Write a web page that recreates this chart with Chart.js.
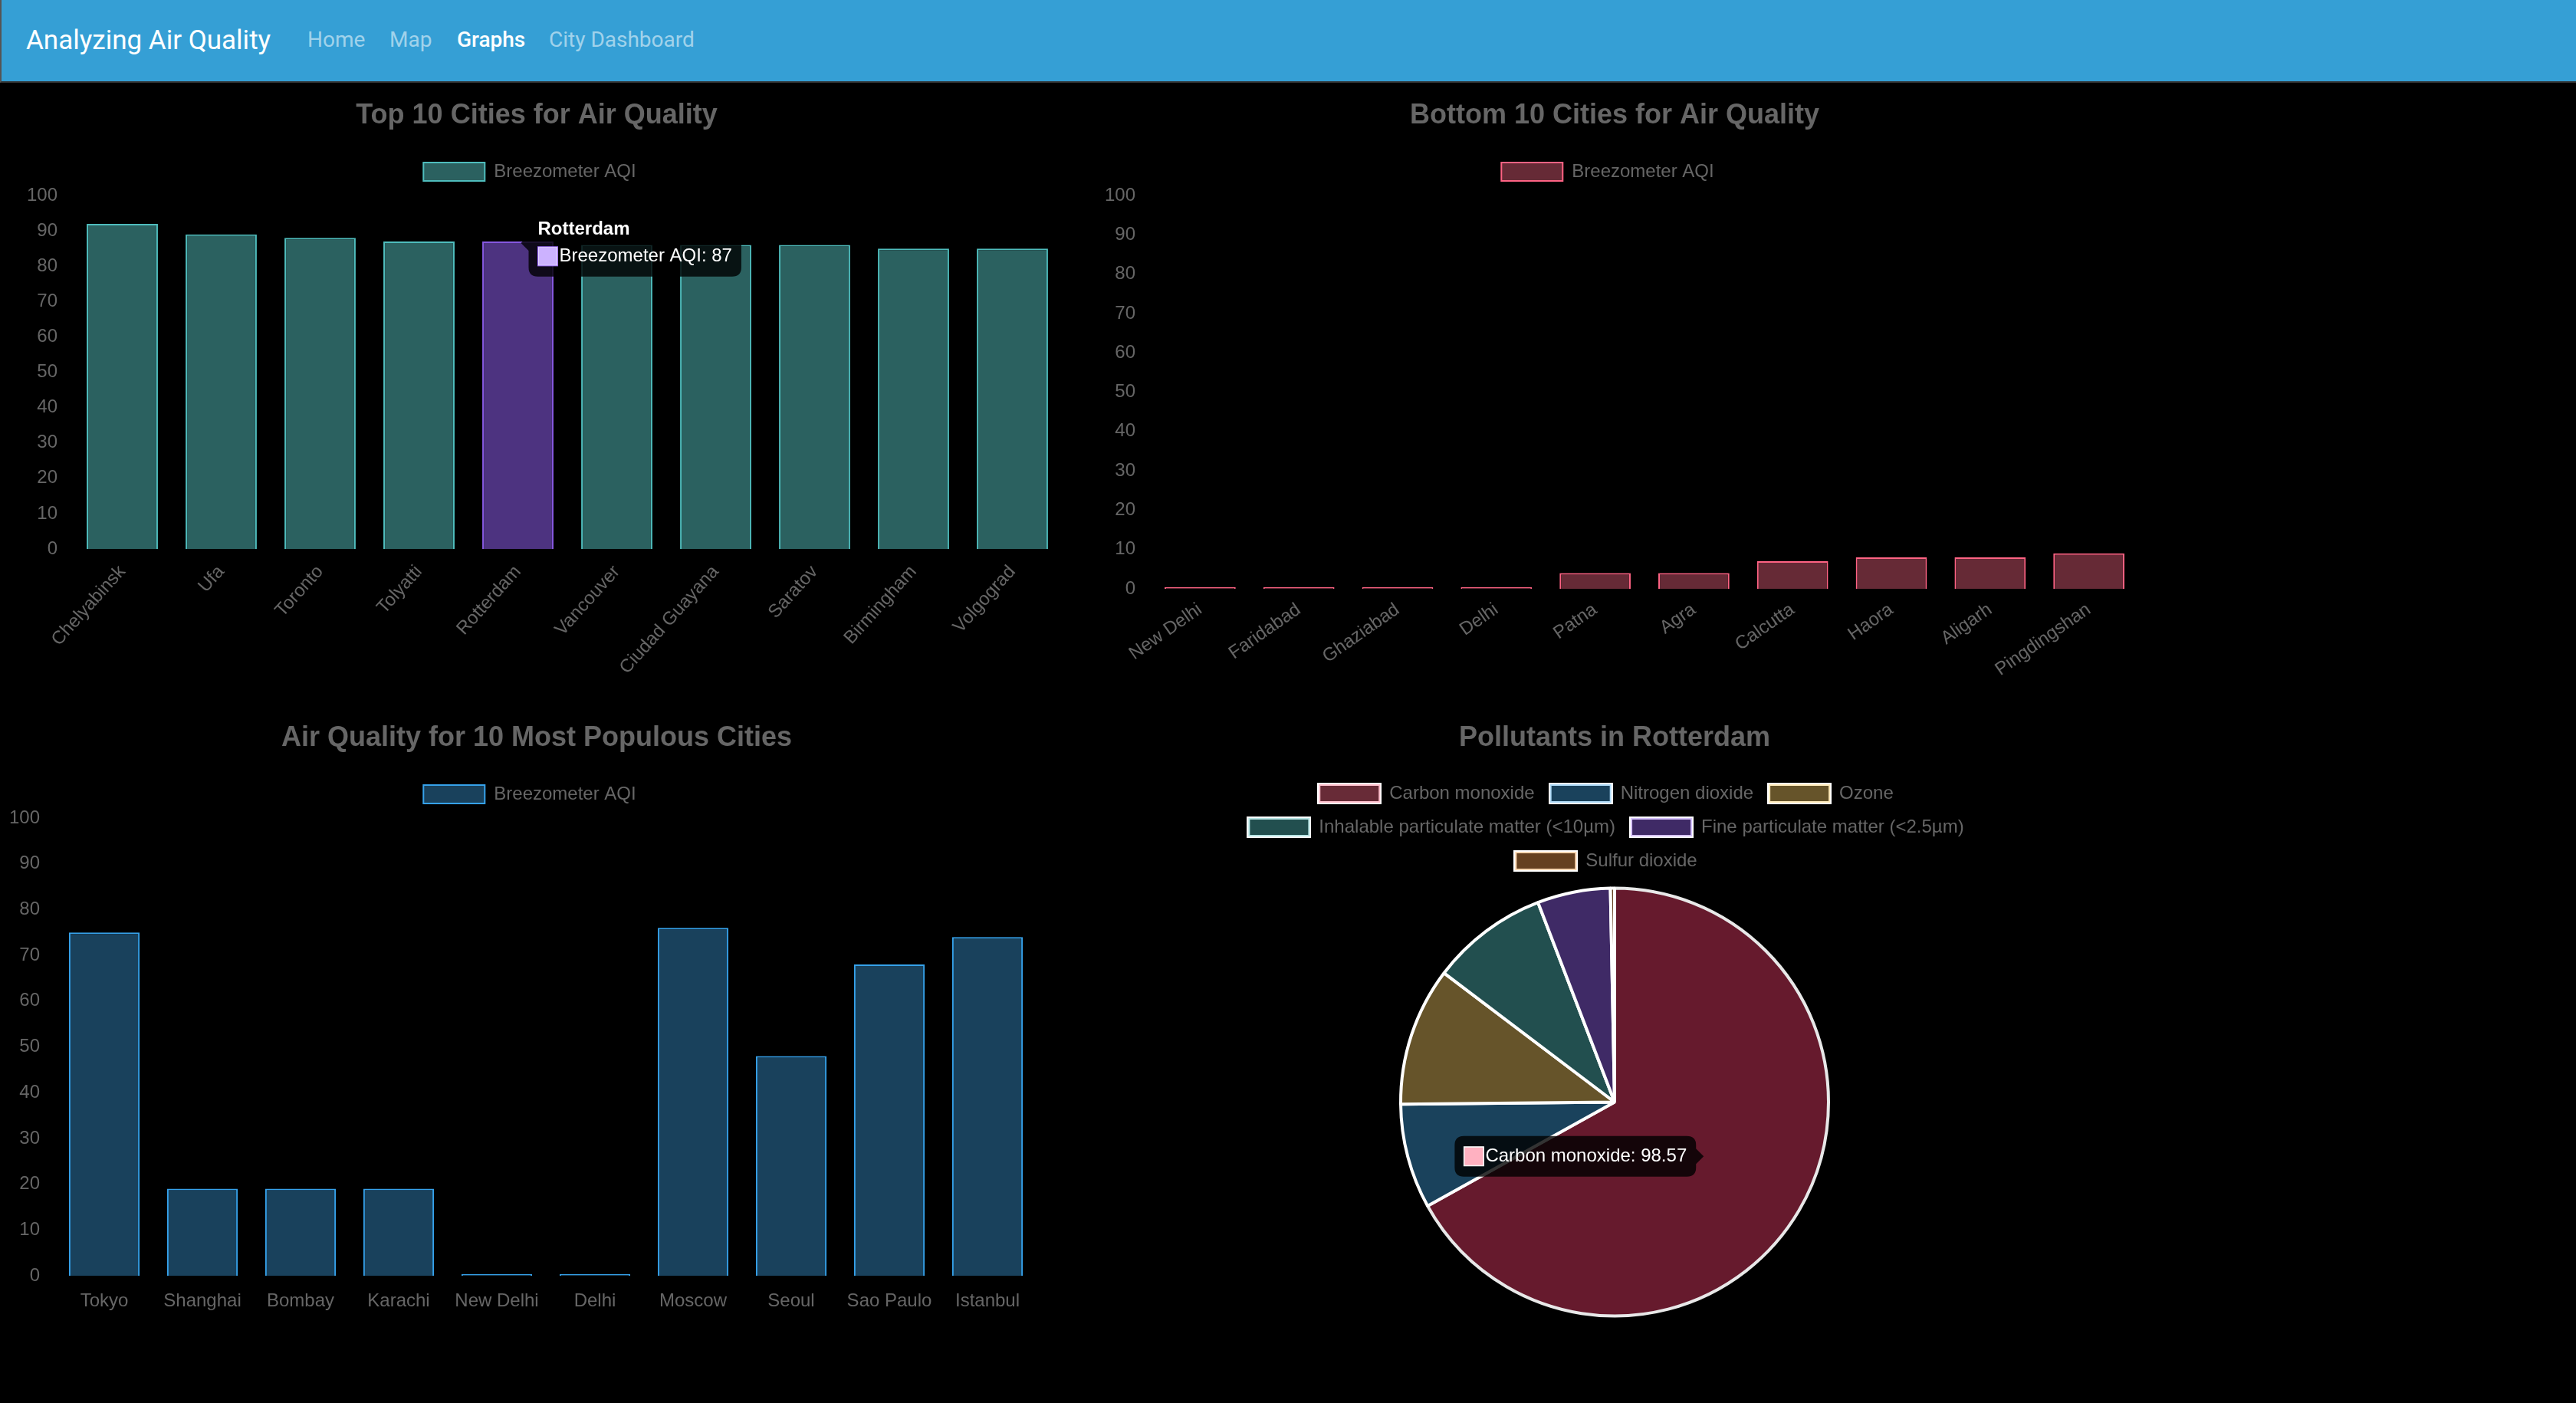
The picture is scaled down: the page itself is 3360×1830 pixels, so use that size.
<!DOCTYPE html>
<html><head><meta charset="utf-8"><title>Analyzing Air Quality</title>
<script src="https://cdn.jsdelivr.net/npm/chart.js@4"></script>
<style>
html,body{margin:0;padding:0;background:#000;width:3360px;height:1830px;overflow:hidden}
#nav{position:absolute;left:0;top:0;width:3360px;height:106px;background:#359fd5;border-left:2px solid #555;border-bottom:2px solid #333;box-sizing:content-box;font-family:Roboto,sans-serif}
#nav span{position:absolute;white-space:nowrap;line-height:40px}
#brand{left:32px;top:33px;font-size:35px;color:#fff}
.lnk{top:32px;font-size:28px;color:rgba(255,255,255,.55)}
.act{color:#fff!important;font-weight:500}
canvas{position:absolute;display:block}
</style></head><body>
<div id="nav"><span id="brand">Analyzing Air Quality</span>
<span class="lnk" style="left:399px">Home</span><span class="lnk" style="left:506px">Map</span><span class="lnk act" style="left:594px">Graphs</span><span class="lnk" style="left:714px">City Dashboard</span></div>
<canvas id="c1" style="left:0;top:110px"></canvas>
<canvas id="c2" style="left:1408px;top:110px"></canvas>
<canvas id="c3" style="left:0;top:922px"></canvas>
<canvas id="c4" style="left:1556px;top:922px"></canvas>
<script>
const topTitle = "Top 10 Cities for Air Quality";
const bottomTitle = "Bottom 10 Cities for Air Quality";
const popTitle = "Air Quality for 10 Most Populous Cities";
const pieTitle = "Pollutants in Rotterdam";
const seriesName = "Breezometer AQI";
const topCities = ["Chelyabinsk","Ufa","Toronto","Tolyatti","Rotterdam","Vancouver","Ciudad Guayana","Saratov","Birmingham","Volgograd"];
const topValues = [92,89,88,87,87,86,86,86,85,85];
const bottomCities = ["New Delhi","Faridabad","Ghaziabad","Delhi","Patna","Agra","Calcutta","Haora","Aligarh","Pingdingshan"];
const bottomValues = [0,0,0,0,4,4,7,8,8,9];
const popCities = ["Tokyo","Shanghai","Bombay","Karachi","New Delhi","Delhi","Moscow","Seoul","Sao Paulo","Istanbul"];
const popValues = [75,19,19,19,0,0,76,48,68,74];
const pollutants = ["Carbon monoxide","Nitrogen dioxide","Ozone","Inhalable particulate matter (<10µm)","Fine particulate matter (<2.5µm)","Sulfur dioxide"];
const pollutantValues = [98.57,11.66,15.4,13.05,8.13,0.46];
const axisTicks = [0,10,20,30,40,50,60,70,80,90,100];

const GREY = "#666";
const FONT = "'Liberation Sans', Helvetica, Arial, sans-serif";
Chart.defaults.font.family = FONT;
Chart.defaults.font.size = 24;
Chart.defaults.color = GREY;

Chart.Tooltip.positioners.nudge = items => {
  const p = items[0].element.tooltipPosition();
  return {x:p.x, y:p.y+2};
};

function shiftBoxes(dx, titleUp, legendUp){
  return {id:"shiftBoxes", afterLayout(ch){
    ch.legend.left += dx-9; ch.legend.right += dx-9;
    ch.legend.top -= legendUp; ch.legend.bottom -= legendUp;
    ch.titleBlock.left += dx; ch.titleBlock.right += dx;
    ch.titleBlock.top -= titleUp; ch.titleBlock.bottom -= titleUp;
  }};
}

function barChart(id, w, h, title, labels, values, o){
  const el = document.getElementById(id);
  el.width = w; el.height = h; el.style.width = w+"px"; el.style.height = h+"px";
  const fill = values.map((_,i)=> (o.hi===i ? o.hiFill : o.fill));
  const stroke = values.map((_,i)=> (o.hi===i ? o.hiStroke : o.stroke));
  const chart = new Chart(el, {
    type:"bar",
    plugins:[shiftBoxes(o.dx||0, o.top-135, o.top-136)],
    data:{labels, datasets:[{label:seriesName, data:values, backgroundColor:fill, borderColor:stroke, borderWidth:2, minBarLength:2, hoverBackgroundColor:fill, hoverBorderColor:stroke, barPercentage:0.9, categoryPercentage:0.8}]},
    options:{
      responsive:false, animation:false, devicePixelRatio:1, events:[],
      layout:{padding:{left:o.pad[0], right:o.pad[1], top:0, bottom:0}},
      plugins:{
        title:{display:true, text:title, color:GREY, font:{size:36, weight:"bold"}, padding:{top:19, bottom:18.8}},
        legend:{labels:{boxWidth:80, boxHeight:24, padding:20, font:{size:24, lineHeight:1}, color:GREY,
          generateLabels:()=>[{text:seriesName, fillStyle:o.fill, strokeStyle:o.stroke, lineWidth:2, fontColor:GREY}]}},
        tooltip:{enabled:true, animation:false, position:"nudge", backgroundColor:"rgba(0,0,0,0.8)", titleColor:"#fff", bodyColor:"#fff",
          titleFont:{size:24, weight:"bold"}, bodyFont:{size:24}, padding:12, cornerRadius:12, caretSize:10, caretPadding:4,
          xAlign:"left", yAlign:"center", displayColors:true, boxWidth:26, boxHeight:25,
          callbacks:{labelColor:()=>({borderColor:"#9966ff", backgroundColor:"rgba(153,102,255,0.5)"})}}
      },
      scales:{
        x:{grid:{display:false}, border:{display:false},
           ticks:{autoSkip:false, minRotation:o.rot, maxRotation:o.rot, padding:o.xpad, color:GREY},
           afterFit:s=>{s.height=o.xh;}},
        y:{min:0, max:100, grid:{display:false}, border:{display:false},
           ticks:{stepSize:10, padding:12, color:GREY, callback:v=>axisTicks.includes(v)?v:""},
           afterFit:s=>{s.width=o.yw; s.paddingTop=o.top; s.paddingBottom=0;}}
      }
    }
  });
  return chart;
}

const c1 = barChart("c1",1400,780,topTitle,topCities,topValues,{fill:"#2b6160",stroke:"#4fbdbd",hi:4,hiFill:"#4d3380",hiStroke:"#8658e0",rot:48,xh:174,yw:80,pad:[15,15],xpad:8,top:145});
const c2 = barChart("c2",1396,780,bottomTitle,bottomCities,bottomValues,{fill:"#662a36",stroke:"#ff6384",rot:35,xh:122,yw:78,pad:[15,15],xpad:5,top:145});
const c3 = barChart("c3",1400,798,popTitle,popCities,popValues,{fill:"#19415c",stroke:"#36a2eb",rot:0,xh:56,yw:62,pad:[10,48],xpad:11,top:145,dx:19});

const pieFill = ["#661a2d","#1a425c","#66542a","#224f4f","#3f2a66","#664120"];
const pieLegendFill = ["#682b37","#1a425c","#66542a","#224f4f","#3f2a66","#664120"];
const pieLegendRing = ["#ffc1ce","#afdaf7","#ffebbb","#b7e6e6","#d6c2ff","#ffd9b3"];
const pieHoverSwatch = ["rgba(255,99,132,0.5)","#36a2eb","#ffce56","#4bc0c0","#9966ff","#ff9f40"];

function swatch(fill, ring){
  const cv = document.createElement("canvas");
  cv.width = 84; cv.height = 28;
  const g = cv.getContext("2d");
  g.fillStyle = "#fff"; g.fillRect(0,0,84,28);
  g.fillStyle = ring; g.fillRect(2,2,80,24);
  g.fillStyle = fill; g.fillRect(4,4,76,20);
  return cv;
}

const el4 = document.getElementById("c4");
el4.width=1100; el4.height=808; el4.style.width="1100px"; el4.style.height="808px";
const c4 = new Chart(el4,{
  type:"pie",
  plugins:[{id:"shiftLegend", afterLayout(ch){ ch.legend.left -= 11; ch.legend.right -= 11; }}],
  data:{labels:pollutants, datasets:[{data:pollutantValues, backgroundColor:pieFill, hoverBackgroundColor:pieFill, borderColor:["#e8e8e8","#fff","#fff","#fff","#fff","#fff"], hoverBorderColor:"#fff", borderWidth:4, radius:279}]},
  options:{
    responsive:false, animation:false, devicePixelRatio:1, events:[],
    plugins:{
      title:{display:true, text:pieTitle, color:GREY, font:{size:36, weight:"bold"}, padding:{top:19, bottom:18.8}},
      legend:{labels:{boxWidth:80, boxHeight:24, padding:20, usePointStyle:true, pointStyleWidth:80, font:{size:24, lineHeight:1}, color:GREY,
        generateLabels:ch=>ch.data.labels.map((t,i)=>({text:t, index:i, pointStyle:swatch(pieLegendFill[i],pieLegendRing[i]), fontColor:GREY, lineWidth:0}))}},
      tooltip:{animation:false, backgroundColor:"rgba(0,0,0,0.8)", bodyColor:"#fff", bodyFont:{size:24}, padding:12, cornerRadius:12, caretSize:10, caretPadding:4, xAlign:"right", yAlign:"center", boxWidth:26, boxHeight:25,
        callbacks:{title:()=>"", label:c=>c.label+": "+c.parsed, labelColor:c=>({borderColor:"#fff", backgroundColor:pieHoverSwatch[c.dataIndex]})}}
    }
  }
});

c1.tooltip.setActiveElements([{datasetIndex:0,index:4}],{x:0,y:0}); c1.render();
c4.tooltip.setActiveElements([{datasetIndex:0,index:0}],{x:0,y:0}); c4.render();
</script></body></html>
